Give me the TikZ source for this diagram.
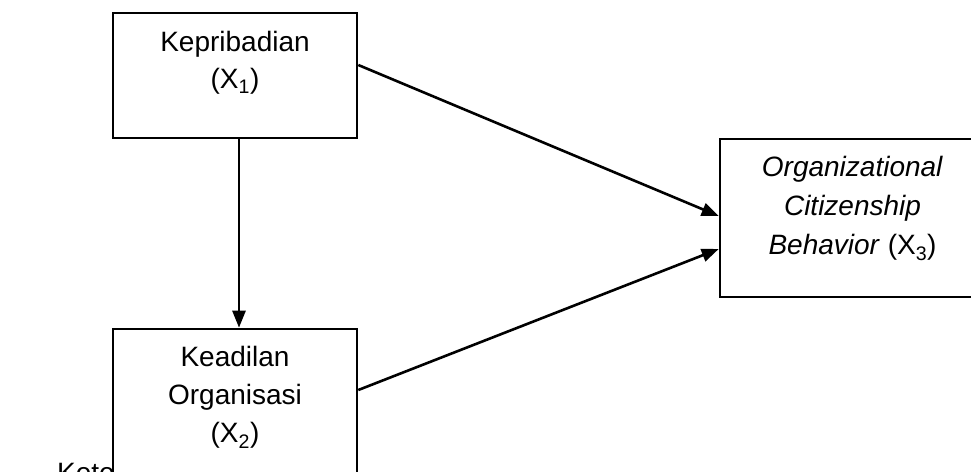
\documentclass[tikz,border=0pt]{standalone}
\usepackage{fontspec}
\setmainfont{Liberation Sans}
\usetikzlibrary{arrows.meta}
\begin{document}
\begin{tikzpicture}[x=1pt,y=-1pt,
  box/.style={draw, line width=2.6pt, fill=white, inner sep=0pt},
  txt/.style={align=center, inner sep=0pt, anchor=north},
  link/.style={line width=2.6pt, -{Triangle[length=17pt,width=13pt]}}]
\useasboundingbox (0,0) rectangle (971,471);
\clip (0,0) rectangle (971,471);

% caption line below the diagram, partly hidden behind the lower box
\node[inner sep=0pt, anchor=base west, font=\fontsize{28}{38}\selectfont] (kete) at (57,482) {Kete};

% boxes
\node[box, minimum width=244pt, minimum height=125pt] (b1) at (235,75.5) {};
\node[box, minimum width=244pt, minimum height=165pt] (b2) at (235,411.5) {};
\node[box, minimum width=265pt, minimum height=158pt] (b3) at (852.5,218) {};

% box texts
\node[txt, font=\fontsize{28}{36.5}\selectfont] (t1) at (235,31.5)
  {Kepribadian\\(X\textsubscript{1})};
\node[txt, font=\fontsize{28}{38}\selectfont] (t2) at (235,346.5)
  {Keadilan\\Organisasi\\(X\textsubscript{2})};
\node[txt, font=\fontsize{28}{39}\selectfont] (t3) at (852.5,156.5)
  {\textit{Organizational}\\\textit{Citizenship}\\\textit{Behavior} (X\textsubscript{3})};

% connectors
\draw[link] ([xshift=4pt]b1.south) -- ([xshift=4pt]b2.north);
\draw[link] ([yshift=10.5pt]b1.east) -- ([yshift=2pt]b3.west);
\draw[link] ([yshift=21.5pt]b2.east) -- ([yshift=-31pt]b3.west);
\end{tikzpicture}
\end{document}
